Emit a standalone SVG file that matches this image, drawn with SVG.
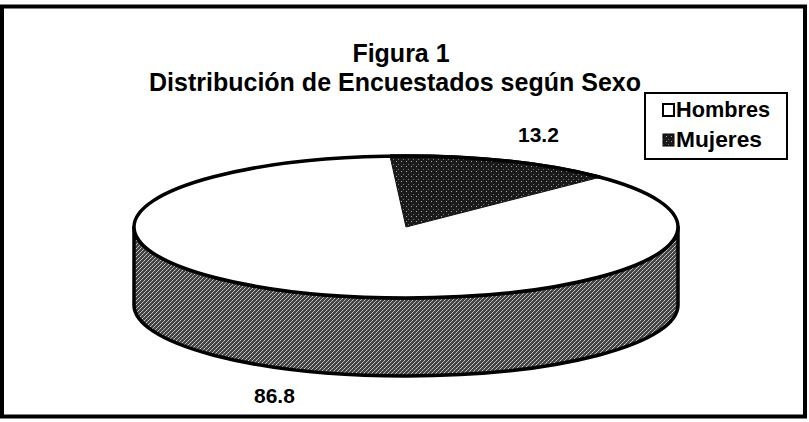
<svg xmlns="http://www.w3.org/2000/svg" width="809" height="422" viewBox="0 0 809 422">
  <style>
    .t { font-family: "Liberation Sans", Arial, sans-serif; font-weight: bold; fill: #000; }
    .edge { stroke: #000; stroke-width: 3.5; stroke-linejoin: round; }
  </style>
  <defs>
    <pattern id="wallTex" width="4" height="4" patternUnits="userSpaceOnUse">
      <rect width="4" height="4" fill="#444"/>
      <rect x="0" y="0" width="1" height="1" fill="#ccc"/>
      <rect x="2" y="2" width="1" height="1" fill="#ccc"/>
      <rect x="3" y="1" width="1" height="1" fill="#aaa"/>
      <rect x="1" y="3" width="1" height="1" fill="#aaa"/>
    </pattern>
    <pattern id="darkTex" width="5" height="5" patternUnits="userSpaceOnUse">
      <rect width="5" height="5" fill="#1a1a1a"/>
      <rect x="1" y="1" width="1" height="1" fill="#aaa"/>
      <rect x="3" y="4" width="1" height="1" fill="#777"/>
    </pattern>
  </defs>

  <rect id="background" x="0" y="0" width="809" height="422" fill="#fff"/>
  <rect id="frame" x="2" y="6.5" width="803" height="410" fill="none" stroke="#000" stroke-width="4"/>

  <g id="title">
    <text class="t" x="401" y="62" font-size="25" text-anchor="middle">Figura 1</text>
    <text class="t" x="149" y="91" font-size="25" textLength="492" lengthAdjust="spacingAndGlyphs">Distribución de Encuestados según Sexo</text>
  </g>

  <g id="pie">
    <g id="wall">
      <path class="edge" fill="url(#wallTex)" d="M134,227 L134,305 A272,71 0 0 0 678,305 L678,227 A272,71 0 0 1 134,227 Z"/>
    </g>
    <g id="slice-hombres">
      <ellipse class="edge" cx="406" cy="227" rx="272" ry="71" fill="#fff"/>
    </g>
    <g id="slice-mujeres">
      <path fill="url(#darkTex)" stroke="#111" stroke-width="1" d="M406,227 L390,156 A272,71 0 0 1 600,177.2 Z"/>
      <path fill="none" class="edge" d="M390,156 A272,71 0 0 1 600,177.2"/>
    </g>
  </g>

  <g id="data-labels">
    <text class="t" x="518" y="142" font-size="21">13.2</text>
    <text class="t" x="254" y="403" font-size="21">86.8</text>
  </g>

  <g id="legend">
    <rect x="645" y="93" width="142" height="66" fill="#fff" stroke="#000" stroke-width="2"/>
    <g id="legend-hombres">
      <rect x="663" y="104" width="11" height="12" fill="#fff" stroke="#000" stroke-width="2"/>
      <text class="t" x="676" y="117" font-size="22" textLength="94" lengthAdjust="spacingAndGlyphs">Hombres</text>
    </g>
    <g id="legend-mujeres">
      <rect x="663" y="134" width="11" height="12" fill="url(#darkTex)" stroke="#000" stroke-width="1"/>
      <text class="t" x="676" y="147" font-size="22" textLength="86" lengthAdjust="spacingAndGlyphs">Mujeres</text>
    </g>
  </g>
</svg>
